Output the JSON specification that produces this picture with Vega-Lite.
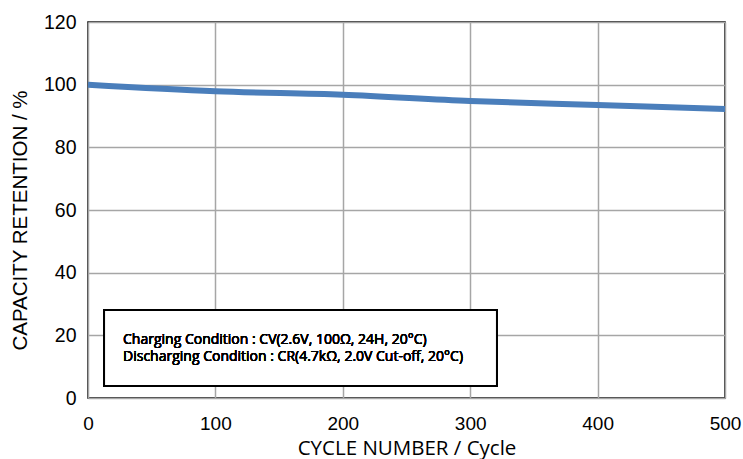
{
  "$schema": "https://vega.github.io/schema/vega-lite/v6.json",
  "autosize": {"type": "none"},
  "padding": {"left": 88, "top": 22, "right": 18, "bottom": 61},
  "width": 637,
  "height": 376,
  "background": "white",
  "config": {
    "view": {"stroke": "#000000", "strokeWidth": 1.5},
    "axis": {"domain": false, "ticks": false, "gridColor": "#a6a6a6", "gridWidth": 1.5, "labelColor": "#000000", "titleColor": "#000000", "labelFlush": false}
  },
  "data": {"values": [
    {"cycle": 0, "retention": 100},
    {"cycle": 100, "retention": 97.9},
    {"cycle": 200, "retention": 96.8},
    {"cycle": 300, "retention": 94.8},
    {"cycle": 400, "retention": 93.5},
    {"cycle": 500, "retention": 92.2}
  ]},
  "layer": [
    {
      "mark": {"type": "line", "color": "#4a7ebb", "strokeWidth": 6, "interpolate": "monotone"},
      "encoding": {
        "x": {"field": "cycle", "type": "quantitative", "scale": {"domain": [0, 500], "nice": false},
          "axis": {"values": [0, 100, 200, 300, 400, 500], "labelFont": "Liberation Sans", "labelFontSize": 19, "labelPadding": 16, "labelFlush": false,
            "title": "CYCLE NUMBER / Cycle", "titleFont": "Open Sans", "titleFontSize": 20.5, "titleFontWeight": "normal", "titlePadding": 5}},
        "y": {"field": "retention", "type": "quantitative", "scale": {"domain": [0, 120], "nice": false},
          "axis": {"values": [0, 20, 40, 60, 80, 100, 120], "labelFont": "Liberation Sans", "labelFontSize": 19.5, "labelPadding": 12, "labelFlush": false,
            "title": "CAPACITY RETENTION / %", "titleFont": "Liberation Sans", "titleFontSize": 20.5, "titleFontWeight": "normal", "titlePadding": 13, "titleY": 198}}
      }
    },
    {
      "mark": {"type": "rect", "fill": "white", "stroke": "#000000", "strokeWidth": 2},
      "encoding": {
        "x": {"datum": 12.6}, "x2": {"datum": 321},
        "y": {"datum": 28.1}, "y2": {"datum": 3.8}
      }
    },
    {
      "mark": {"type": "text", "align": "left", "baseline": "middle", "font": "Open Sans", "fontSize": 14, "fontWeight": "normal", "fill": "#000000", "strokeWidth": 0},
      "encoding": {
        "x": {"datum": 27.5}, "y": {"datum": 18.6},
        "text": {"value": "Charging Condition : CV(2.6V, 100Ω, 24H, 20°C)"}
      }
    },
    {
      "mark": {"type": "text", "align": "left", "baseline": "middle", "font": "Open Sans", "fontSize": 14, "fontWeight": "normal", "fill": "#000000", "strokeWidth": 0},
      "encoding": {
        "x": {"datum": 27.5}, "y": {"datum": 13.0},
        "text": {"value": "Discharging Condition : CR(4.7kΩ, 2.0V Cut-off, 20°C)"}
      }
    }
  ]
}
